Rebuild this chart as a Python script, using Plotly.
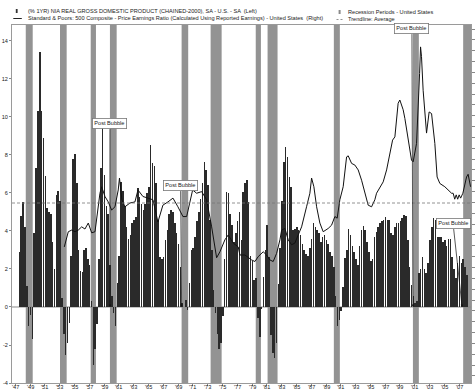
import plotly.graph_objects as go

# ---------------- data ----------------
gdp_start_year = 1948  # first quarter = 1948 Q1
gdp_yoy = [
    2.9, 4.8, 5.5, 4.2,      # 1948
    1.1, -1.0, -0.4, -1.7,   # 1949
    3.9, 7.3, 10.3, 13.4,    # 1950
    10.3, 8.9, 6.9, 5.2,     # 1951
    5.0, 4.9, 3.4, 2.0,      # 1952
    5.9, 6.1, 5.6, 0.45,     # 1953
    -1.4, -2.5, -1.9, -0.85, # 1954
    2.7, 7.8, 8.05, 6.5,     # 1955
    3.0, 1.9, 1.85, 3.0,     # 1956
    3.1, 2.5, 2.2, 0.3,      # 1957
    -3.05, -2.2, -0.9, 2.5,  # 1958
    7.3, 9.5, 6.95, 5.3,     # 1959
    4.9, 2.2, 0.6, -0.3,     # 1960
    -1.0, 1.25, 2.7, 6.6,    # 1961
    6.1, 5.3, 4.2, 3.6,      # 1962
    3.8, 4.4, 4.6, 4.75,     # 1963
    6.25, 5.8, 5.4, 5.1,     # 1964
    5.4, 6.0, 6.3, 8.5,      # 1965
    7.6, 7.4, 6.5, 4.6,      # 1966
    2.65, 2.5, 2.65, 3.5,    # 1967
    4.05, 4.9, 5.1, 5.0,     # 1968
    4.4, 3.9, 3.3, 2.1,      # 1969
    0.2, 0.0, 0.35, -0.16,   # 1970
    1.25, 3.0, 3.1, 3.7,     # 1971
    4.5, 5.0, 5.7, 6.5,      # 1972
    7.65, 7.2, 6.4, 4.6,     # 1973
    3.0, 0.9, -0.3, -1.4,    # 1974
    -2.2, -1.9, -0.5, 2.5,   # 1975
    6.07, 6.0, 4.9, 4.3,     # 1976
    3.4, 3.9, 4.5, 5.0,      # 1977
    3.5, 6.07, 6.5, 6.7,     # 1978
    5.5, 2.7, 2.4, 1.4,      # 1979
    1.5, -0.6, -1.56, -0.1,  # 1980
    1.6, 3.0, 4.3, 2.65,     # 1981
    -1.5, -2.4, -2.7, -1.9,  # 1982
    1.2, 3.1, 5.6, 7.65,     # 1983
    8.4, 7.9, 6.85, 6.3,     # 1984
    4.05, 4.1, 4.2, 4.05,    # 1985
    3.8, 3.3, 3.0, 2.8,      # 1986
    2.7, 3.1, 3.6, 4.4,      # 1987
    4.2, 4.05, 3.9, 3.4,     # 1988
    3.7, 3.8, 3.5, 3.3,      # 1989
    2.9, 2.7, 2.1, 0.6,      # 1990
    -1.0, -0.7, -0.2, 1.07,  # 1991
    2.6, 3.0, 4.1, 3.8,      # 1992
    3.2, 2.9, 2.5, 2.2,      # 1993
    3.2, 4.05, 4.25, 4.05,   # 1994
    3.4, 2.9, 2.4, 2.5,      # 1995
    3.7, 3.96, 4.2, 4.4,     # 1996
    4.5, 4.6, 4.75, 4.6,     # 1997
    4.6, 3.9, 3.8, 4.2,      # 1998
    4.4, 4.4, 4.5, 4.7,      # 1999
    4.85, 4.8, 3.5, 2.1,     # 2000
    1.15, 0.6, 0.2, 0.3,     # 2001
    1.77, 2.0, 2.65, 2.0,    # 2002
    1.8, 2.3, 3.5, 4.2,      # 2003
    4.7, 4.6, 3.7, 3.7,      # 2004
    3.7, 3.4, 3.5, 3.2,      # 2005
    3.6, 3.6, 2.65, 2.0,     # 2006
    1.5, 2.3, 2.7, 2.3,      # 2007
    2.5, 2.1, 1.7,           # 2008
]

pe_dates = [1954.07, 1954.61, 1955.07, 1955.51, 1955.96, 1956.42, 1956.86, 1957.31, 1957.77, 1958.22,
            1958.89, 1959.12, 1959.57, 1960.01, 1960.47, 1960.92, 1961.36, 1961.53, 1961.86, 1962.27,
            1962.95, 1963.62, 1964.03, 1964.70, 1965.38, 1966.05, 1966.73, 1967.40, 1968.08, 1968.76,
            1969.43, 1970.11, 1970.61, 1971.05, 1971.42, 1971.96, 1972.64, 1973.31, 1973.99, 1974.66,
            1975.11, 1975.78, 1976.23, 1976.91, 1977.58, 1977.81, 1978.49, 1979.39, 1979.84, 1980.28,
            1980.96, 1981.42, 1981.86, 1982.31, 1982.77, 1983.22, 1983.45, 1983.89, 1984.34, 1984.80,
            1985.24, 1985.69, 1986.15, 1986.82, 1987.27, 1987.50, 1987.81, 1988.18, 1988.62, 1989.07,
            1989.74, 1990.20, 1990.65, 1990.96, 1991.32, 1991.77, 1992.23, 1992.45, 1992.91, 1993.35,
            1993.80, 1994.26, 1994.70, 1995.15, 1995.61, 1996.05, 1996.28, 1996.73, 1997.18, 1997.64,
            1998.08, 1998.45, 1998.76, 1999.20, 1999.43, 1999.88, 2000.11, 2000.55, 2001.01, 2001.23,
            2001.69, 2002.10, 2002.23, 2002.36, 2002.58, 2003.04, 2003.39, 2003.72, 2004.16, 2004.47,
            2004.84, 2005.51, 2005.96, 2006.42, 2006.64, 2006.85, 2007.05, 2007.25, 2007.45, 2007.65,
            2007.95, 2008.45, 2008.66, 2008.99]
pe_values = [9.8, 12.6, 12.9, 12.6, 12.9, 13.5, 13.1, 14.2, 12.4, 12.6,
             19.7, 20.9, 19.1, 18.1, 16.6, 17.2, 20.3, 22.5, 18.5, 17.2,
             17.9, 18.1, 20.3, 19.1, 18.8, 18.5, 14.4, 17.5, 18.1, 18.8,
             17.2, 15.4, 15.4, 17.9, 20.3, 19.7, 20.0, 18.5, 13.5, 7.8,
             8.9, 11.1, 12.0, 10.5, 9.8, 8.3, 8.3, 7.4, 7.1, 8.0,
             8.9, 8.3, 7.4, 7.1, 8.6, 11.1, 12.9, 13.2, 11.1, 10.2,
             10.5, 12.0, 13.5, 17.2, 19.7, 22.5, 20.9, 17.2, 14.2, 12.6,
             13.2, 13.8, 15.4, 15.1, 18.5, 20.9, 26.4, 26.6, 25.2, 24.9,
             24.0, 22.1, 19.7, 17.5, 17.2, 18.5, 19.7, 20.9, 21.8, 24.0,
             27.1, 29.5, 30.1, 36.3, 36.9, 35.1, 33.5, 30.1, 25.8, 25.5,
             28.9, 41.8, 46.7, 44.9, 38.7, 30.8, 34.7, 34.4, 28.9, 22.7,
             21.5, 20.9, 20.3, 19.7, 19.7, 18.6, 19.4, 18.6, 19.4, 18.8,
             19.7, 22.7, 23.2, 20.9]
pe_average = 17.9

recession_start = [1948.86, 1953.49, 1957.64, 1960.24, 1969.93, 1973.85, 1979.95, 1981.55, 1990.51, 2001.20, 2007.99]
recession_end = [1949.80, 1954.39, 1958.35, 1961.15, 1970.82, 1975.34, 1980.65, 1982.90, 1991.32, 2002.00, 2009.10]

post_bubble_dates = [1960.24, 1969.93, 2001.20, 2007.85]

tick_years = list(range(1947, 2008, 2))
tick_labels = ["'" + str(y)[2:] for y in tick_years]

left_ticks = [-4, -2, 0, 2, 4, 6, 8, 10, 12, 14]

# ---------------- geometry helpers (pixel -> paper) ----------------
W, H = 475, 390
L, R, T, B = 12, 471, 25, 383


def px(x):
    return (x - L) / (R - L)


def py(y):
    return (B - y) / (B - T)


FONT = "Liberation Sans, Arial, sans-serif"
TXT = "#222222"
FS = 5.6

quarter_x = [gdp_start_year + i * 0.25 for i in range(len(gdp_yoy))]

fig = go.Figure()

fig.add_trace(go.Bar(
    x=quarter_x, y=gdp_yoy, width=0.21,
    marker=dict(color="#2a2a2a", line=dict(width=0)),
    yaxis="y", showlegend=False, hoverinfo="skip",
))

fig.add_trace(go.Scatter(
    x=pe_dates, y=pe_values, mode="lines",
    line=dict(color="#111111", width=1),
    yaxis="y2", showlegend=False, hoverinfo="skip",
))

fig.add_trace(go.Scatter(
    x=[1947, 2009.05], y=[pe_average, pe_average], mode="lines",
    line=dict(color="#777777", width=0.8, dash="3px,2px"),
    yaxis="y2", showlegend=False, hoverinfo="skip",
))

shapes = []
for s, e in zip(recession_start, recession_end):
    shapes.append(dict(type="rect", xref="x", yref="paper", x0=s, x1=e, y0=0, y1=1,
                       fillcolor="#939393", line=dict(width=0), layer="below"))
# zero line
shapes.append(dict(type="line", xref="paper", yref="y", x0=0, x1=1, y0=0, y1=0,
                   line=dict(color="#8a8a8a", width=1), layer="below"))

# legend icons
shapes.append(dict(type="rect", xref="paper", yref="paper", x0=px(15.8), x1=px(17.6),
                   y0=py(13), y1=py(9), fillcolor="#333333", line=dict(width=0)))
shapes.append(dict(type="line", xref="paper", yref="paper", x0=px(13.3), x1=px(21.8),
                   y0=py(18.5), y1=py(18.5), line=dict(color="#222222", width=1)))
shapes.append(dict(type="rect", xref="paper", yref="paper", x0=px(338.6), x1=px(340.6),
                   y0=py(14), y1=py(10), fillcolor="#8a8a8a", line=dict(width=0)))
shapes.append(dict(type="line", xref="paper", yref="paper", x0=px(336.5), x1=px(343),
                   y0=py(19.5), y1=py(19.5), line=dict(color="#777777", width=0.8, dash="2px,2px")))

annotations = [
    dict(text="(% 1YR) NIA REAL GROSS DOMESTIC PRODUCT (CHAINED-2000), SA - U.S. - SA  (Left)",
         x=px(25.5), y=py(11.2), xref="paper", yref="paper", xanchor="left", yanchor="middle",
         showarrow=False, font=dict(family=FONT, size=FS, color=TXT)),
    dict(text="Standard & Poors: 500 Composite - Price Earnings Ratio (Calculated Using Reported Earnings) - United States  (Right)",
         x=px(25.5), y=py(17.5), xref="paper", yref="paper", xanchor="left", yanchor="middle",
         showarrow=False, font=dict(family=FONT, size=FS, color=TXT)),
    dict(text="Recession Periods - United States",
         x=px(346), y=py(12.2), xref="paper", yref="paper", xanchor="left", yanchor="middle",
         showarrow=False, font=dict(family=FONT, size=FS, color=TXT)),
    dict(text="Trendline: Average",
         x=px(346), y=py(18.8), xref="paper", yref="paper", xanchor="left", yanchor="middle",
         showarrow=False, font=dict(family=FONT, size=FS, color=TXT)),
]

# x tick labels (drawn as text just under the axis)
for yv, lab in zip(tick_years, tick_labels):
    annotations.append(dict(text=lab, x=yv + 0.45, y=py(386.8), xref="x", yref="paper",
                            xanchor="center", yanchor="middle", showarrow=False,
                            font=dict(family=FONT, size=FS, color=TXT)))

# Post Bubble call-outs (label centre offsets in pixels from the arrow tip)
label_offsets = [(0, -183), (-1, -121), (-1, -278), (-9, -83)]
for d, (ax, ay) in zip(post_bubble_dates, label_offsets):
    annotations.append(dict(
        text="Post Bubble", x=d, y=0, xref="x", yref="y", ax=ax, ay=ay,
        showarrow=True, arrowhead=2, arrowsize=0.7, arrowwidth=0.7, arrowcolor="#111111",
        font=dict(family=FONT, size=FS, color=TXT), bgcolor="white",
        bordercolor="#777777", borderwidth=0.8, borderpad=1.5,
    ))

fig.update_layout(
    width=W, height=H,
    margin=dict(l=L, r=W - R, t=T, b=H - B, pad=0, autoexpand=False),
    paper_bgcolor="white", plot_bgcolor="white",
    bargap=0, showlegend=False,
    font=dict(family=FONT, size=FS, color=TXT),
    shapes=shapes, annotations=annotations,
    xaxis=dict(range=[1947, 2009.05], tickmode="array", tickvals=[y + 0.45 for y in tick_years],
               showticklabels=False, ticks="outside", ticklen=2, tickcolor="#888888",
               showline=True, linecolor="#9a9a9a", linewidth=1, mirror=True,
               showgrid=False, zeroline=False, automargin=False),
    yaxis=dict(range=[-4, 14.84], tickmode="array", tickvals=left_ticks,
               ticktext=[str(v) for v in left_ticks], ticks="outside", ticklen=2,
               tickcolor="#888888", showline=True, linecolor="#9a9a9a", linewidth=1,
               showgrid=False, zeroline=False, automargin=False,
               tickfont=dict(family=FONT, size=FS, color=TXT)),
    yaxis2=dict(range=[-15.31, 50.74], overlaying="y", side="right", dtick=2,
                ticks="outside", ticklen=3, tickcolor="#888888", showticklabels=False,
                showline=True, linecolor="#9a9a9a", linewidth=1,
                showgrid=False, zeroline=False, automargin=False),
)

fig.write_html("out.html",
               config={"displayModeBar": False, "staticPlot": True},
               post_script="document.body.style.margin='0';document.body.style.padding='0';")
